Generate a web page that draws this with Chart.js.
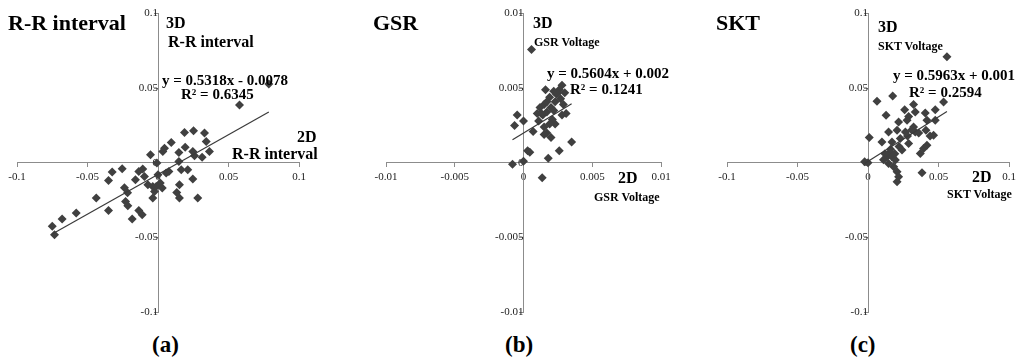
<!DOCTYPE html>
<html>
<head>
<meta charset="utf-8">
<script src="https://cdn.jsdelivr.net/npm/chart.js@4.4.1/dist/chart.umd.min.js"></script>
<style>
  body { margin: 0; width: 1024px; height: 364px; background: #fff; position: relative; overflow: hidden;
         font-family: "Liberation Serif", "Times New Roman", serif; }
  canvas { position: absolute; top: 0; }
  .lbl { position: absolute; font-weight: bold; line-height: 1; white-space: nowrap; color: #000; }
</style>
</head>
<body>
<canvas id="rrChart" width="340" height="330" style="left:0px"></canvas>
<canvas id="gsrChart" width="340" height="330" style="left:340px"></canvas>
<canvas id="sktChart" width="340" height="330" style="left:680px"></canvas>
<div id="labels"></div>
<script>
// (a) R-R interval: 2D vs 3D
const rrX = [-0.075, -0.0734, -0.068, -0.058, -0.0438, -0.0351, -0.0351, -0.0325, -0.0254, -0.0238,
  -0.0216, -0.023, -0.0214, -0.0183, -0.0136, -0.0112, -0.016, -0.0136, -0.0108, -0.0053,
  -0.0072, -0.0037, -0.0025, -0.0037, -0.0096, 0.0786, 0.0578, 0.0188, 0.0252, 0.033,
  0.0342, 0.0365, 0.0313, 0.0259, 0.0247, 0.0193, 0.0148, 0.0094, 0.0046, 0.0034,
  0.0148, 0.0165, 0.0211, 0.0247, 0.0152, 0.0133, 0.0152, 0.0282, 0.0077, 0.0058,
  0, 0.0016, -0.0013, 0.003, -0.0008];
const rrY = [-0.0426, -0.0482, -0.0377, -0.0336, -0.0236, -0.0319, -0.0118, -0.0062, -0.004, -0.0167,
  -0.0201, -0.0259, -0.0288, -0.0377, -0.0319, -0.0348, -0.0114, -0.0058, -0.0042, 0.0054,
  -0.0147, -0.0159, -0.0192, -0.0236, -0.0092, 0.0528, 0.0388, 0.0203, 0.0214, 0.0199,
  0.0142, 0.0076, 0.0038, 0.0047, 0.0076, 0.0105, 0.0069, 0.0136, 0.0098, 0.0076,
  0.0009, -0.0047, -0.0047, -0.0109, -0.0147, -0.0199, -0.0236, -0.0236, -0.0058, -0.0069,
  -0.008, -0.0136, -0.0159, -0.0169, -0.0002];
const rrFit = [0.5318, -0.0078];
const rrTicks = [-0.1, -0.05, 0, 0.05, 0.1];

// (b) GSR voltage
const gsrX = [0.00058, -0.00046, -0.00065, 0, 0.0007, 0.0003, 0, -0.0008, 0.00136, 0.0018,
  0.0026, 0.0035, 0.002, 0.0017, 0.0015, 0.0023, 0.0028, 0.0029, 0.0027, 0.0026,
  0.0028, 0.0024, 0.0016, 0.0019, 0.0015, 0.0012, 0.001, 0.0011, 0.0017, 0.002,
  0.0014, 0.0022, 0.0015, 0.0023, 0.0021, 0.00046, 0.0025, 0.0022, 0.003, 0.0031,
  0.0013, 0.0019, 0.0017];
const gsrY = [0.0076, 0.0032, 0.0025, 0.0028, 0.0021, 0.0008, 0.0001, -0.0001, -0.001, 0.0003,
  0.0008, 0.0014, 0.0017, 0.002, 0.0024, 0.0026, 0.0032, 0.0039, 0.0043, 0.0049,
  0.0052, 0.0046, 0.0049, 0.0044, 0.0039, 0.0037, 0.0033, 0.0028, 0.0034, 0.0037,
  0.0032, 0.0035, 0.0019, 0.0041, 0.0029, 0.0007, 0.0047, 0.0048, 0.0047, 0.0033,
  0.0033, 0.0026, 0.0041];
const gsrFit = [0.5604, 0.002];
const gsrTicks = [-0.01, -0.005, 0, 0.005, 0.01];

// (c) SKT voltage
const sktX = [0.056, 0.0536, 0.0064, 0.0175, 0.0128, 0.026, 0.0323, 0.0335, 0.0288, 0.0277,
  0.0406, 0.0477, 0.0477, 0.0418, 0.0323, 0.0335, 0.0217, 0.0206, 0.0146, 0.0229,
  0.0265, 0.0288, 0.017, 0.0099, 0.0009, 0.0411, 0.0465, 0.0394, 0.0418, 0.0371,
  0.0158, 0.0135, 0.017, 0.0194, 0.0146, 0.0182, 0.0206, 0.0217, 0.0206, -0.0024,
  0, 0.0383, 0.0241, 0.012, 0.016, 0.019, 0.011, 0.022, 0.028, 0.031, 0.036, 0.044];
const sktY = [0.0711, 0.0407, 0.0413, 0.0447, 0.0318, 0.0356, 0.0391, 0.034, 0.0311, 0.0285,
  0.0333, 0.0356, 0.0285, 0.0285, 0.024, 0.0207, 0.0273, 0.0218, 0.0207, 0.0163,
  0.0207, 0.0129, 0.014, 0.014, 0.0169, 0.0218, 0.0185, 0.0096, 0.0118, 0.0063,
  0.0073, 0.004, 0.004, 0.0018, -0.0004, -0.0027, -0.006, -0.0093, -0.0127, 0.0007,
  0, -0.0067, 0.0085, 0.006, 0.009, 0.006, 0.002, 0.011, 0.018, 0.022, 0.02, 0.018];
const sktFit = [0.5963, 0.001];
const sktTicks = [-0.1, -0.05, 0, 0.05, 0.1];

// text: [text, left, centerY, size]
const labels = [
  ["R-R interval", 8, 23, 22], ["3D", 166, 23, 16], ["R-R interval", 168, 42, 16],
  ["y = 0.5318x - 0.0078", 162, 80, 15], ["R\u00b2 = 0.6345", 181, 94, 15],
  ["2D", 297, 137, 16], ["R-R interval", 232, 154, 16], ["(a)", 152, 344, 23],
  ["GSR", 373, 23, 22], ["3D", 533, 23, 16], ["GSR Voltage", 534, 42, 12],
  ["y = 0.5604x + 0.002", 547, 73, 15], ["R\u00b2 = 0.1241", 570, 89, 15],
  ["2D", 618, 178, 16], ["GSR Voltage", 594, 197, 12], ["(b)", 505, 344, 23],
  ["SKT", 716, 23, 22], ["3D", 878, 27, 16], ["SKT Voltage", 878, 46, 12],
  ["y = 0.5963x + 0.001", 893, 75, 15], ["R\u00b2 = 0.2594", 909, 92, 15],
  ["2D", 972, 177, 16], ["SKT Voltage", 947, 194, 12], ["(c)", 850, 344, 23]
];

const labelBox = document.getElementById("labels");
labels.forEach(([text, left, cy, size]) => {
  const d = document.createElement("div");
  d.className = "lbl";
  d.textContent = text;
  d.style.left = left + "px";
  d.style.top = (cy - size / 2) + "px";
  d.style.fontSize = size + "px";
  labelBox.appendChild(d);
});

function makeAxis(pos, ticks, pad) {
  return {
    type: 'linear',
    position: pos,
    min: ticks[0],
    max: ticks[ticks.length - 1],
    afterBuildTicks: scale => { scale.ticks = ticks.map(v => ({ value: v })); },
    grid: { drawOnChartArea: false, drawTicks: true, tickLength: 4, color: '#8c8c8c' },
    border: { color: '#8c8c8c', width: 1 },
    ticks: {
      color: '#222',
      font: { family: 'Liberation Serif', size: 11 },
      padding: pad,
      maxRotation: 0,
      autoSkip: false,
      callback: v => String(v)
    }
  };
}

function makeChart(id, xs, ys, fit, ticks, padding) {
  const points = xs.map((x, i) => ({ x: x, y: ys[i] }));
  const ends = [Math.min(...xs), Math.max(...xs)];
  const trend = ends.map(x => ({ x: x, y: fit[0] * x + fit[1] }));

  return new Chart(document.getElementById(id).getContext('2d'), {
    type: 'scatter',
    data: {
      datasets: [{
        data: trend,
        showLine: true,
        borderColor: '#3a3a3a',
        borderWidth: 1.2,
        pointRadius: 0
      }, {
        data: points,
        pointStyle: 'rectRot',
        pointRadius: 4.5,
        pointBorderWidth: 0,
        backgroundColor: '#404040',
        borderColor: '#404040'
      }]
    },
    options: {
      responsive: false,
      animation: false,
      layout: { padding: padding },
      plugins: { legend: { display: false }, tooltip: { enabled: false } },
      scales: {
        x: makeAxis({ y: 0 }, ticks, 4),
        y: makeAxis({ x: 0 }, ticks, 7)
      }
    }
  });
}

makeChart('rrChart', rrX, rrY, rrFit, rrTicks, { left: 17, right: 41, top: 13, bottom: 18 });
makeChart('gsrChart', gsrX, gsrY, gsrFit, gsrTicks, { left: 46, right: 19, top: 13, bottom: 18 });
makeChart('sktChart', sktX, sktY, sktFit, sktTicks, { left: 47, right: 11, top: 13, bottom: 18 });
</script>
</body>
</html>
